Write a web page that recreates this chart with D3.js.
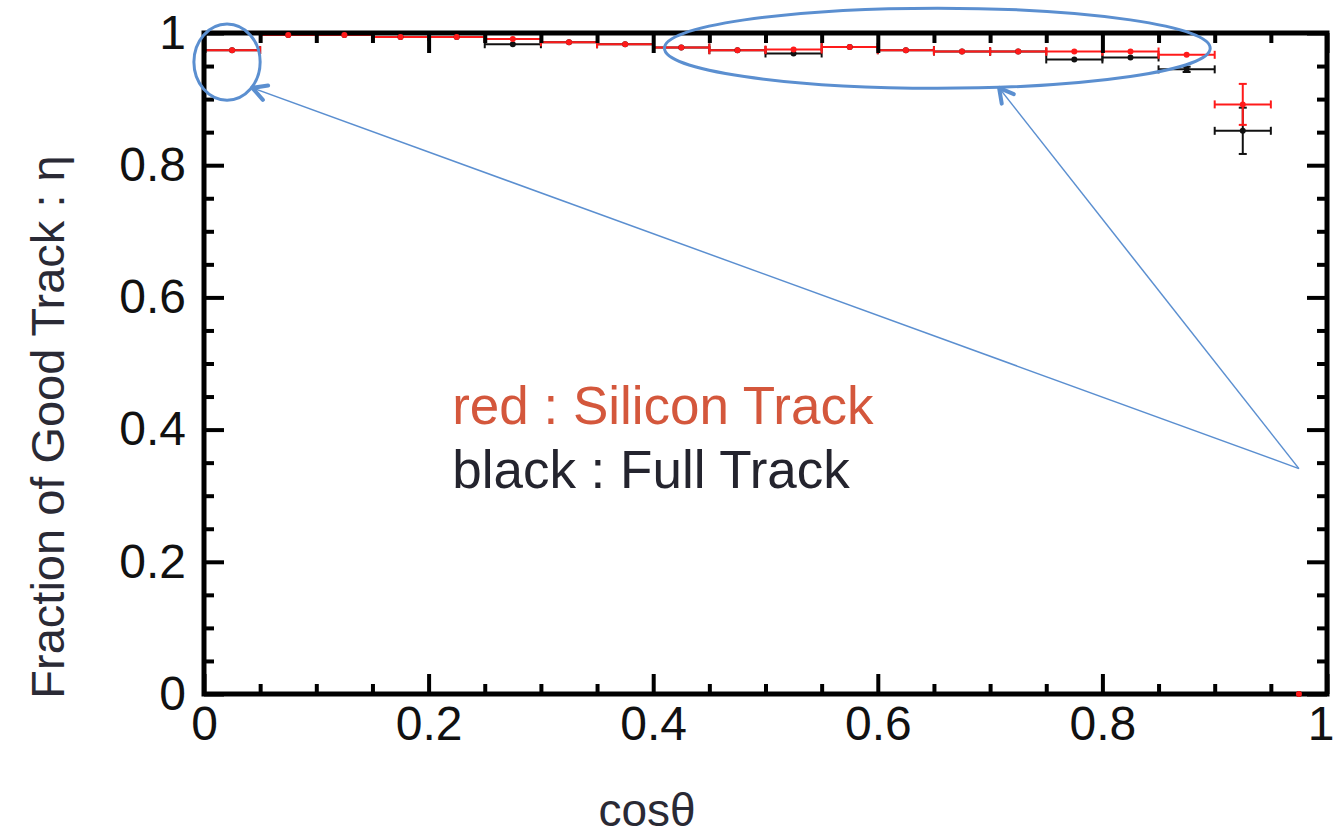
<!DOCTYPE html>
<html>
<head>
<meta charset="utf-8">
<script src="https://cdn.jsdelivr.net/npm/d3@7"></script>
<style>
  body { margin: 0; background: #fff; }
  text { font-family: "Liberation Sans", Arial, sans-serif; }
</style>
</head>
<body>
<div id="chart"></div>
<script>
// # Bin centres (cos theta) and half-width of each bin.
const binCenters = [0.025, 0.075, 0.125, 0.175, 0.225, 0.275, 0.325, 0.375, 0.425, 0.475,
                    0.525, 0.575, 0.625, 0.675, 0.725, 0.775, 0.825, 0.875, 0.925, 0.975]
const binHalf = 0.025

// # Silicon track (red) and full track (black) efficiencies.
const redValues   = [0.974, 0.997, 0.997, 0.994, 0.994, 0.991, 0.986, 0.983, 0.978, 0.974,
                     0.975, 0.979, 0.974, 0.972, 0.972, 0.972, 0.972, 0.967, 0.892, 0.0]
const redErrors   = [0.002, 0.001, 0.001, 0.001, 0.001, 0.001, 0.002, 0.002, 0.002, 0.002,
                     0.002, 0.002, 0.002, 0.002, 0.002, 0.002, 0.002, 0.003, 0.031, 0.0]
const blackValues = [0.974, 0.997, 0.997, 0.994, 0.994, 0.983, 0.986, 0.983, 0.978, 0.974,
                     0.969, 0.979, 0.974, 0.972, 0.972, 0.960, 0.963, 0.945, 0.852, 0.0]
const blackErrors = [0.002, 0.001, 0.001, 0.001, 0.001, 0.002, 0.002, 0.002, 0.002, 0.002,
                     0.002, 0.002, 0.002, 0.002, 0.002, 0.002, 0.003, 0.004, 0.035, 0.0]

// # Ticks.
const xMajor = [0, 0.2, 0.4, 0.6, 0.8, 1]
const xMinor = [0.05, 0.1, 0.15, 0.25, 0.3, 0.35, 0.45, 0.5, 0.55, 0.65, 0.7, 0.75, 0.85, 0.9, 0.95]
const yMajor = [0, 0.2, 0.4, 0.6, 0.8, 1]
const yMinor = [0.05, 0.1, 0.15, 0.25, 0.3, 0.35, 0.45, 0.5, 0.55, 0.65, 0.7, 0.75, 0.85, 0.9, 0.95]
const tickLabels = ['0', '0.2', '0.4', '0.6', '0.8', '1']

// # Annotations (data coordinates).
const legendLines = [
    {text: 'red : Silicon Track', x: 0.221, y: 0.409, color: '#d4573c'},
    {text: 'black : Full Track',  x: 0.221, y: 0.312, color: '#24242e'}
]
const ellipses = [
    {cx: 0.0205, cy: 0.956, rx: 0.0295, ry: 0.0576},
    {cx: 0.653,  cy: 0.977, rx: 0.243,  ry: 0.0606}
]
const arrowFrom = {x: 0.975, y: 0.341}
const arrowTips = [{x: 0.043, y: 0.917}, {x: 0.708, y: 0.917}]

const width = 1337, height = 836
const margin = {left: 204, right: 10, top: 33, bottom: 142}

const svg = d3.select('#chart').append('svg')
    .attr('width', width)
    .attr('height', height)
svg.append('rect').attr('width', width).attr('height', height).attr('fill', '#fff')

const x = d3.scaleLinear().domain([0, 1]).range([margin.left, 1327])
const y = d3.scaleLinear().domain([0, 1]).range([694, margin.top])

// # Data: error bars first, then frame, then dots.
const series = [
    {values: blackValues, errors: blackErrors, color: '#111'},
    {values: redValues,   errors: redErrors,   color: '#ff1a1a'}
]

series.forEach(s => {
    let g = svg.append('g')
    let pts = binCenters.map((c, i) => ({c, v: s.values[i], e: s.errors[i]}))
        .filter(p => p.v > 0)
    // horizontal bars + end caps
    g.selectAll('.hbar').data(pts).enter().append('line')
        .attr('x1', p => x(p.c - binHalf)).attr('x2', p => x(p.c + binHalf))
        .attr('y1', p => y(p.v)).attr('y2', p => y(p.v))
        .attr('stroke', s.color).attr('stroke-width', 2)
    g.selectAll('.hcap').data(pts.flatMap(p => [{x: p.c - binHalf, v: p.v}, {x: p.c + binHalf, v: p.v}]))
        .enter().append('line')
        .attr('x1', p => x(p.x)).attr('x2', p => x(p.x))
        .attr('y1', p => y(p.v) - 4).attr('y2', p => y(p.v) + 4)
        .attr('stroke', s.color).attr('stroke-width', 2)
    // vertical error bars
    let big = pts.filter(p => y(p.v - p.e) - y(p.v + p.e) > 4)
    g.selectAll('.vbar').data(big).enter().append('line')
        .attr('x1', p => x(p.c)).attr('x2', p => x(p.c))
        .attr('y1', p => y(p.v - p.e)).attr('y2', p => y(p.v + p.e))
        .attr('stroke', s.color).attr('stroke-width', 2)
    g.selectAll('.vcap').data(big.flatMap(p => [{c: p.c, v: p.v - p.e}, {c: p.c, v: p.v + p.e}]))
        .enter().append('line')
        .attr('x1', p => x(p.c) - 4).attr('x2', p => x(p.c) + 4)
        .attr('y1', p => y(p.v)).attr('y2', p => y(p.v))
        .attr('stroke', s.color).attr('stroke-width', 2)
})

// # Frame.
svg.append('rect')
    .attr('x', x(0)).attr('y', y(1))
    .attr('width', x(1) - x(0)).attr('height', y(0) - y(1))
    .attr('fill', 'none').attr('stroke', '#000').attr('stroke-width', 5)

// # Axes with inward ticks.
function styleAxis(g) {
    g.select('.domain').remove()
    g.selectAll('.tick line').attr('stroke', '#000').attr('stroke-width', 4)
    g.selectAll('.tick text')
        .attr('fill', '#111')
        .style('font-size', '48px')
        .style('font-family', '"Liberation Sans", Arial, sans-serif')
}
const fmt = d => tickLabels[xMajor.indexOf(d)]

svg.append('g').attr('transform', `translate(0,${y(0)})`)
    .call(d3.axisBottom(x).tickValues(xMajor).tickFormat(fmt).tickSize(-20).tickPadding(12))
    .call(styleAxis)
    .selectAll('.tick text').filter(d => d === 1).attr('text-anchor', 'end').attr('dx', 7)
svg.append('g').attr('transform', `translate(0,${y(0)})`)
    .call(d3.axisBottom(x).tickValues(xMinor).tickFormat('').tickSize(-10))
    .call(styleAxis)
svg.append('g').attr('transform', `translate(0,${y(1)})`)
    .call(d3.axisTop(x).tickValues(xMajor).tickFormat('').tickSize(-20))
    .call(styleAxis)
svg.append('g').attr('transform', `translate(0,${y(1)})`)
    .call(d3.axisTop(x).tickValues(xMinor).tickFormat('').tickSize(-10))
    .call(styleAxis)

svg.append('g').attr('transform', `translate(${x(0)},0)`)
    .call(d3.axisLeft(y).tickValues(yMajor).tickFormat(d => tickLabels[yMajor.indexOf(d)]).tickSize(-20).tickPadding(18))
    .call(styleAxis)
svg.append('g').attr('transform', `translate(${x(0)},0)`)
    .call(d3.axisLeft(y).tickValues(yMinor).tickFormat('').tickSize(-10))
    .call(styleAxis)
svg.append('g').attr('transform', `translate(${x(1)},0)`)
    .call(d3.axisRight(y).tickValues(yMajor).tickFormat('').tickSize(-20))
    .call(styleAxis)
svg.append('g').attr('transform', `translate(${x(1)},0)`)
    .call(d3.axisRight(y).tickValues(yMinor).tickFormat('').tickSize(-10))
    .call(styleAxis)

// # Dots on top.
series.forEach(s => {
    svg.append('g').selectAll('circle')
        .data(binCenters.map((c, i) => ({c, v: s.values[i]})))
        .enter().append('circle')
        .attr('cx', p => x(p.c)).attr('cy', p => y(p.v))
        .attr('r', 3)
        .attr('fill', s.color)
})

// # Axis titles.
svg.append('text')
    .attr('x', 647).attr('y', 826)
    .attr('text-anchor', 'middle')
    .attr('fill', '#2a2a35')
    .style('font-size', '46px')
    .text('cosθ')
svg.append('text')
    .attr('transform', 'translate(64,427) rotate(-90)')
    .attr('text-anchor', 'middle')
    .attr('fill', '#2a2a35')
    .style('font-size', '47px')
    .text('Fraction of Good Track : η')

// # Legend text.
svg.selectAll('.legend').data(legendLines).enter().append('text')
    .attr('x', d => x(d.x)).attr('y', d => y(d.y))
    .attr('fill', d => d.color)
    .style('font-size', '53px')
    .text(d => d.text)

// # Blue annotations.
const blue = '#5b8fd0'
svg.selectAll('.ell').data(ellipses).enter().append('ellipse')
    .attr('cx', d => x(d.cx)).attr('cy', d => y(d.cy))
    .attr('rx', d => x(d.rx) - x(0)).attr('ry', d => y(0) - y(d.ry))
    .attr('fill', 'none').attr('stroke', blue).attr('stroke-width', 3)

svg.selectAll('.arrow').data(arrowTips).enter().append('line')
    .attr('x1', x(arrowFrom.x)).attr('y1', y(arrowFrom.y))
    .attr('x2', d => x(d.x)).attr('y2', d => y(d.y))
    .attr('stroke', blue).attr('stroke-width', 1.5)

// open arrowheads
svg.selectAll('.head').data(arrowTips).enter().append('path')
    .attr('d', d => {
        let tx = x(d.x), ty = y(d.y)
        let ang = Math.atan2(y(arrowFrom.y) - ty, x(arrowFrom.x) - tx)
        let len = 16, spread = 0.5
        let a1 = [tx + len * Math.cos(ang + spread), ty + len * Math.sin(ang + spread)]
        let a2 = [tx + len * Math.cos(ang - spread), ty + len * Math.sin(ang - spread)]
        return `M${a1[0]},${a1[1]}L${tx},${ty}L${a2[0]},${a2[1]}`
    })
    .attr('fill', 'none').attr('stroke', blue).attr('stroke-width', 4)
    .attr('stroke-linecap', 'round').attr('stroke-linejoin', 'round')
</script>
</body>
</html>
